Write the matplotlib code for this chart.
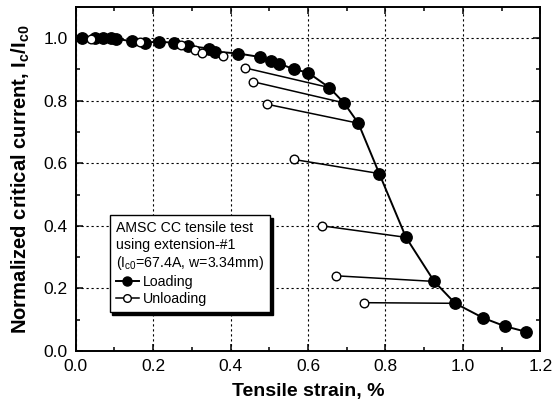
import matplotlib
matplotlib.use("Agg")
import matplotlib.pyplot as plt
from matplotlib.lines import Line2D
from matplotlib.ticker import MultipleLocator

plt.rcParams['font.family'] = ['Liberation Sans', 'DejaVu Sans']
plt.rcParams['mathtext.default'] = 'regular'

# Loading data (filled circles)
load_x = [0.015, 0.05, 0.07, 0.09, 0.105, 0.145, 0.18, 0.215, 0.255, 0.29, 0.345, 0.36,
          0.42, 0.475, 0.505, 0.525, 0.565, 0.60, 0.655, 0.693, 0.73, 0.784, 0.853,
          0.926, 0.98, 1.053, 1.108, 1.163]
load_y = [1.0, 1.0, 1.0, 1.0, 0.998, 0.99, 0.986, 0.989, 0.985, 0.975, 0.967, 0.957,
          0.951, 0.94, 0.927, 0.919, 0.90, 0.89, 0.842, 0.793, 0.728, 0.567, 0.363,
          0.222, 0.152, 0.105, 0.079, 0.061]

# Unloading data (open circles) - small cycles near 1.0
unl_small_x = [0.04, 0.166, 0.273, 0.308, 0.325, 0.381]
unl_small_y = [0.996, 0.988, 0.978, 0.962, 0.953, 0.942]

# Unloading data - large cycles, each starting from a loading point
unl_x = [0.437, 0.457, 0.493, 0.564, 0.635, 0.672, 0.745]
unl_y = [0.905, 0.861, 0.789, 0.612, 0.40, 0.24, 0.154]
unl_start = [18, 19, 20, 21, 22, 23, 24]   # indices into loading arrays

x_ticks = [0.0, 0.2, 0.4, 0.6, 0.8, 1.0, 1.2]
y_ticks = [0.0, 0.2, 0.4, 0.6, 0.8, 1.0]

fig = plt.figure(figsize=(5.53, 4.07), dpi=100)
ax = fig.add_axes([0.137, 0.138, 0.840, 0.845])

# unloading lines
for xs, ys, i in zip(unl_x, unl_y, unl_start):
    ax.plot([load_x[i], xs], [load_y[i], ys], color='black', lw=1.1, zorder=3)

ax.plot(load_x, load_y, '-o', color='black', lw=1.4, ms=8.2, mfc='black',
        mec='black', zorder=4)
ax.plot(unl_small_x + unl_x, unl_small_y + unl_y, 'o', ms=6.2, mfc='white',
        mec='black', mew=1.0, zorder=5)

ax.set_xlim(0, 1.2)
ax.set_ylim(0, 1.1)
ax.set_xticks(x_ticks)
ax.set_yticks(y_ticks)
ax.set_xticklabels([f"{v:.1f}" for v in x_ticks])
ax.set_yticklabels([f"{v:.1f}" for v in y_ticks])
ax.xaxis.set_minor_locator(MultipleLocator(0.1))
ax.yaxis.set_minor_locator(MultipleLocator(0.1))
ax.tick_params(which='both', direction='in', top=True, right=True, width=1.1)
ax.tick_params(which='major', length=5, labelsize=12.5, pad=6)
ax.tick_params(which='minor', length=3)
for s in ax.spines.values():
    s.set_linewidth(1.4)
ax.grid(True, which='major', color='black', linestyle=(0, (2, 2.5)), lw=0.8)
ax.set_axisbelow(True)

ax.set_xlabel('Tensile strain, %', fontsize=14, fontweight='bold', labelpad=6)
ax.set_ylabel('Normalized critical current, I$_c$/I$_{c0}$', fontsize=14.6,
              fontweight='bold', labelpad=8)

handles = [
    Line2D([], [], color='black', lw=1.4, marker='o', ms=6.5, mfc='black', mec='black'),
    Line2D([], [], color='black', lw=1.1, marker='o', ms=5.5, mfc='white', mec='black'),
]
leg = ax.legend(handles, ['Loading', 'Unloading'],
                title='AMSC CC tensile test\nusing extension-#1\n(I$_{c0}$=67.4A, w=3.34mm)',
                loc='upper left', bbox_to_anchor=(0.073, 0.395), borderaxespad=0,
                fontsize=10.2, title_fontsize=10.2, frameon=True, fancybox=False,
                framealpha=1, edgecolor='black', shadow={'color': 'black', 'alpha': 1},
                handlelength=1.6, handletextpad=0.3, labelspacing=0.2,
                borderpad=0.45, alignment='left')
leg.get_frame().set_linewidth(1.0)
leg.set_zorder(10)

fig.savefig('out.png', dpi=100)
